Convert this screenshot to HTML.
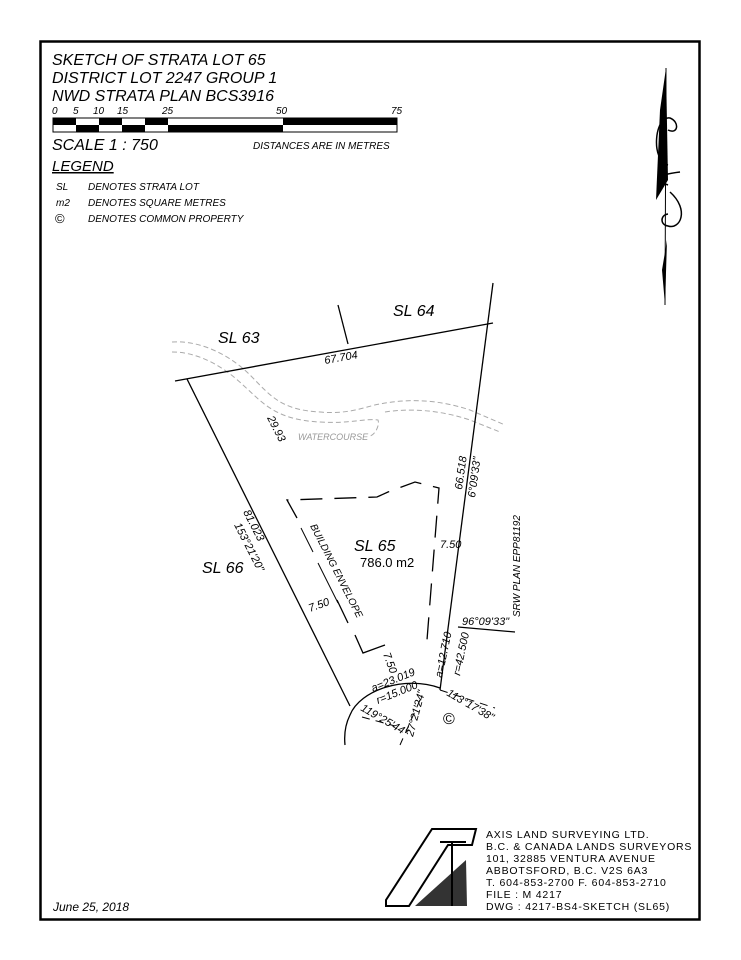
<!DOCTYPE html>
<html><head><style>
body{margin:0;background:#fff}
svg{display:block}
text{font-family:"Liberation Sans",sans-serif;font-style:italic;fill:#000}
.n{font-style:normal}
</style></head><body>
<svg width="741" height="960" viewBox="0 0 741 960" xmlns="http://www.w3.org/2000/svg">
<rect x="40.5" y="41.5" width="659" height="878" fill="none" stroke="#000" stroke-width="2.5"/>
<text x="52" y="65" font-size="16">SKETCH  OF  STRATA  LOT  65</text>
<text x="52" y="83" font-size="16">DISTRICT  LOT  2247  GROUP  1</text>
<text x="52" y="101" font-size="16">NWD  STRATA  PLAN  BCS3916</text>
<g font-size="10"><text x="52" y="114">0</text><text x="73" y="114">5</text><text x="93" y="114">10</text><text x="117" y="114">15</text><text x="162" y="114">25</text><text x="276" y="114">50</text><text x="391" y="114">75</text></g>
<rect x="53" y="118" width="344" height="14" fill="#fff" stroke="#000"/>
<g fill="#000">
<rect x="53" y="118" width="23" height="7"/><rect x="76" y="125" width="23" height="7"/>
<rect x="99" y="118" width="23" height="7"/><rect x="122" y="125" width="23" height="7"/>
<rect x="145" y="118" width="23" height="7"/><rect x="168" y="125" width="115" height="7"/>
<rect x="283" y="118" width="114" height="7"/>
</g>
<text x="52" y="150" font-size="16">SCALE   1 :  750</text>
<text x="253" y="149" font-size="10">DISTANCES  ARE  IN  METRES</text>
<text x="52" y="171" font-size="15" text-decoration="underline">LEGEND</text>
<g font-size="10"><text x="56" y="190">SL</text><text x="88" y="190">DENOTES  STRATA  LOT</text>
<text x="56" y="206">m2</text><text x="88" y="206">DENOTES  SQUARE  METRES</text>
<text x="55" y="223" class="n" font-size="13">©</text><text x="88" y="222">DENOTES  COMMON  PROPERTY</text></g>
<!-- north arrow -->
<line x1="666" y1="68" x2="665" y2="305" stroke="#000"/>
<polygon points="666,68 668,180 656,200 660,110" fill="#000"/>
<polygon points="665,305 667,240 662,270" fill="#000"/>
<g fill="none" stroke="#000" stroke-width="1.5">
<path d="M668,165 C650,160 655,115 670,118 C680,122 678,135 668,130"/>
<path d="M668,185 C655,180 655,175 680,172 M670,192 C690,210 680,230 668,226 C660,225 660,215 668,214"/>
</g>
<!-- watercourse -->
<g fill="none" stroke="#aaa" stroke-width="1" stroke-dasharray="5,3">
<path d="M172,342 C200,340 230,355 250,375 C270,395 280,410 320,412 C350,415 370,405 380,404 C410,398 440,400 470,410 L505,425"/>
<path d="M172,352 C200,352 225,368 243,385 C262,402 275,420 320,422 C350,424 365,418 378,420 C380,425 375,435 370,436 M385,412 C410,408 440,410 470,420 L500,432"/>
</g>
<text x="298" y="440" font-size="9" style="fill:#999">WATERCOURSE</text>
<!-- lot lines -->
<g stroke="#000" stroke-width="1.3" fill="none">
<line x1="175" y1="381" x2="493" y2="323"/>
<line x1="493" y1="283" x2="440" y2="690"/>
<line x1="187" y1="379" x2="350" y2="706"/>
<line x1="338" y1="305" x2="348" y2="344"/>
<path d="M440,688 C405,675 360,690 350,715 C345,725 344,735 345,745"/>
<line x1="458" y1="627" x2="515" y2="632"/>
</g>
<g stroke="#000" stroke-width="1" stroke-dasharray="8,6">
<line x1="362" y1="717" x2="395" y2="726"/><line x1="420" y1="700" x2="400" y2="745"/>
<line x1="440" y1="690" x2="495" y2="708"/>
</g>
<!-- building envelope -->
<g stroke="#000" stroke-width="1.3" fill="none">
<polyline points="297,518 287,500 377,497 388,492 415,482 439,488 427,640" stroke-dasharray="22,12"/>
<polyline points="355,635 363,653 385,645" />
<line x1="337" y1="600" x2="348" y2="623"/>
</g>
<g stroke="#000" stroke-width="1">
<line x1="301" y1="528" x2="313" y2="552"/>
<line x1="318" y1="563" x2="338" y2="603"/>
</g>
<!-- labels -->
<text x="218" y="343" font-size="16">SL  63</text>
<text x="393" y="316" font-size="16">SL  64</text>
<text x="202" y="573" font-size="16">SL  66</text>
<text x="354" y="551" font-size="16">SL  65</text>
<text x="360" y="567" font-size="13" class="n">786.0  m2</text>
<text x="325" y="364" font-size="11" transform="rotate(-10 325 364)">67.704</text>
<text x="267" y="418" font-size="11" transform="rotate(63 267 418)">29.93</text>
<text x="243" y="512" font-size="11" transform="rotate(63 243 512)">81.023</text>
<text x="234" y="525" font-size="11" transform="rotate(63 234 525)">153°21'20"</text>
<text x="310" y="526" font-size="10" transform="rotate(63 310 526)">BUILDING  ENVELOPE</text>
<text x="310" y="612" font-size="11" transform="rotate(-20 310 612)">7.50</text>
<text x="440" y="548" font-size="11">7.50</text>
<text x="383" y="654" font-size="11" transform="rotate(70 383 654)">7.50</text>
<text x="462" y="490" font-size="11" transform="rotate(-82 462 490)">66.518</text>
<text x="475" y="498" font-size="11" transform="rotate(-82 475 498)">6°09'33"</text>
<text x="520" y="617" font-size="10" transform="rotate(-90 520 617)">SRW PLAN EPP81192</text>
<text x="462" y="625" font-size="11">96°09'33"</text>
<text x="442" y="678" font-size="11" transform="rotate(-78 442 678)">a=12.710</text>
<text x="460" y="676" font-size="11" transform="rotate(-78 460 676)">r=42.500</text>
<text x="373" y="692" font-size="11" transform="rotate(-22 373 692)">a=23.019</text>
<text x="378" y="704" font-size="11" transform="rotate(-22 378 704)">r=15.000</text>
<text x="360" y="710" font-size="11" transform="rotate(30 360 710)">119°25'44"</text>
<text x="413" y="737" font-size="11" transform="rotate(-75 413 737)">27°21'24"</text>
<text x="446" y="695" font-size="11" transform="rotate(30 446 695)">113°17'38"</text>
<text x="443" y="724" font-size="16" class="n">©</text>
<!-- logo -->
<g stroke="#000" fill="none" stroke-width="2">
<path d="M432,829 L476,829 L472,845 L448,845 L409,906 L386,906 L386,900 Z" fill="#fff"/>
<line x1="452" y1="841" x2="452" y2="906"/>
<line x1="440" y1="842" x2="466" y2="842"/>
</g>
<path d="M415,906 L466,860 L467,906 Z" fill="#000" opacity="0.8"/>
<g font-size="10.5" letter-spacing="0.8">
<text x="486" y="838" class="n">AXIS LAND SURVEYING LTD.</text>
<text x="486" y="850" class="n">B.C. &amp; CANADA LANDS SURVEYORS</text>
<text x="486" y="862" class="n">101, 32885 VENTURA AVENUE</text>
<text x="486" y="874" class="n">ABBOTSFORD, B.C.  V2S 6A3</text>
<text x="486" y="886" class="n">T. 604-853-2700 F. 604-853-2710</text>
<text x="486" y="898" class="n">FILE : M 4217</text>
<text x="486" y="910" class="n">DWG : 4217-BS4-SKETCH  (SL65)</text>
</g>
<text x="53" y="911" font-size="12">June 25, 2018</text>
</svg>
</body></html>
